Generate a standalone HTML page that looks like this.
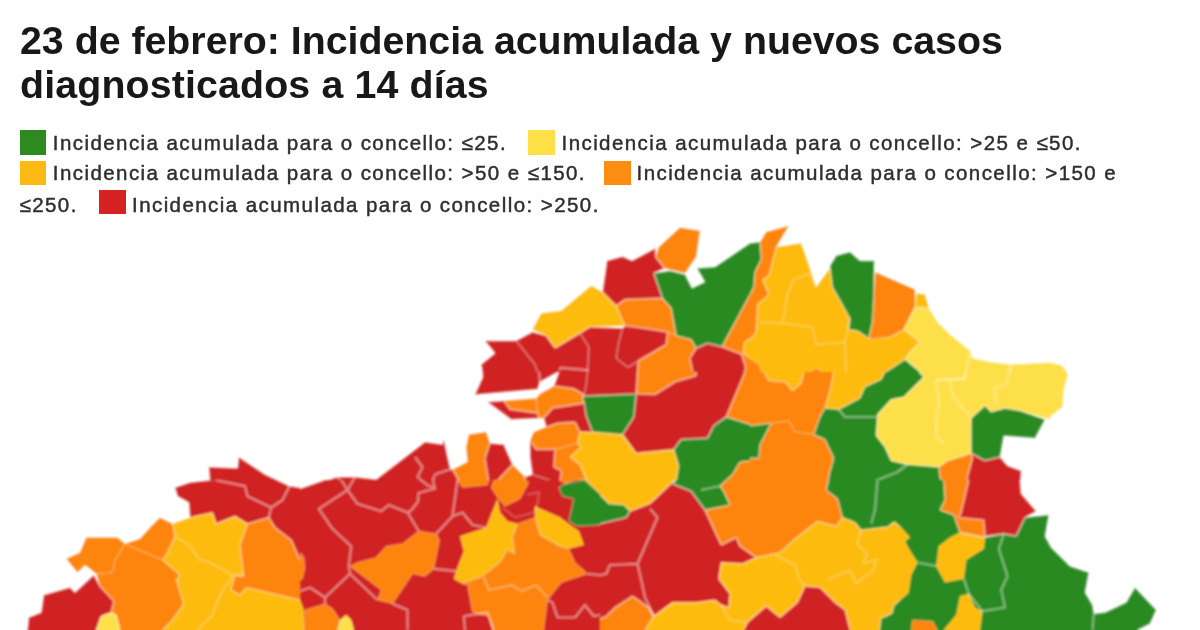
<!DOCTYPE html>
<html lang="es"><head><meta charset="utf-8"><title>Incidencia acumulada</title>
<style>
html,body{margin:0;padding:0;background:#fff;}
body{width:1200px;height:630px;overflow:hidden;position:relative;font-family:"Liberation Sans",sans-serif;}
#title{position:absolute;filter:blur(0.4px);left:20px;top:17.5px;margin:0;font-weight:bold;font-size:39.3px;line-height:44.6px;color:#181818;white-space:nowrap;}
#title span{display:block;}
.lg{position:absolute;-webkit-text-stroke:0.45px #2e2e2e;filter:blur(0.35px);font-size:20.5px;letter-spacing:1.43px;color:#2e2e2e;white-space:nowrap;line-height:28px;}
.sw{position:absolute;filter:blur(0.5px);width:26.7px;height:24.4px;}
#map{position:absolute;left:0;top:0;}
#map .b{fill:none;stroke:#fff;stroke-width:2.2;stroke-linejoin:round;}
#map .bR{stroke-opacity:.45}#map .bO{stroke-opacity:.3}#map .bA{stroke-opacity:.22}#map .bY{stroke-opacity:.28}#map .bG{stroke-opacity:.4}
#map .eR{stroke-opacity:.26}#map .eO{stroke-opacity:.17}#map .eA{stroke-opacity:.12}#map .eY{stroke-opacity:.15}#map .eG{stroke-opacity:.22}
</style></head><body>
<h1 id="title"><span id="t1">23 de febrero: Incidencia acumulada y nuevos casos</span><span id="t2" style="letter-spacing:0.15px">diagnosticados a 14 días</span></h1>
<div class="sw" style="left:19.5px;top:130.3px;background:#2c8a1e"></div><div class="lg" id="l1" style="left:52.8px;top:128.6px">Incidencia acumulada para o concello: ≤25.</div>
<div class="sw" style="left:528.4px;top:130.3px;background:#fde047"></div><div class="lg" id="l2" style="left:561.5px;top:128.6px">Incidencia acumulada para o concello: &gt;25 e ≤50.</div>
<div class="sw" style="left:19.5px;top:161px;background:#fdb913"></div><div class="lg" id="l3" style="left:52.8px;top:159px">Incidencia acumulada para o concello: &gt;50 e ≤150.</div>
<div class="sw" style="left:604px;top:161px;background:#fd8c12"></div><div class="lg" id="l4" style="left:636.5px;top:159px">Incidencia acumulada para o concello: &gt;150 e</div>
<div class="lg" id="l5" style="left:19.5px;top:190.6px">≤250.</div>
<div class="sw" style="left:99px;top:190px;background:#d62222"></div><div class="lg" id="l6" style="left:132px;top:190.6px">Incidencia acumulada para o concello: &gt;250.</div>
<svg id="map" width="1200" height="630" viewBox="0 0 1200 630">
<!--MAP--><defs><clipPath id="c0"><rect x="450" y="222" width="300" height="150"/></clipPath><clipPath id="c1"><rect x="750" y="222" width="300" height="150"/></clipPath><clipPath id="c2"><rect x="1050" y="322" width="150" height="158"/></clipPath><clipPath id="c3"><rect x="450" y="372" width="300" height="108"/></clipPath><clipPath id="c4"><rect x="750" y="372" width="300" height="108"/></clipPath><clipPath id="c5"><rect x="150" y="372" width="300" height="108"/></clipPath><clipPath id="c6"><rect x="0" y="480" width="300" height="165"/></clipPath><clipPath id="c7"><rect x="300" y="480" width="300" height="165"/></clipPath><clipPath id="c8"><rect x="600" y="480" width="300" height="165"/></clipPath><clipPath id="c9"><rect x="900" y="480" width="300" height="165"/></clipPath><filter id="bl" filterUnits="userSpaceOnUse" x="0" y="200" width="1200" height="460"><feGaussianBlur stdDeviation="0.8"/></filter></defs>
<g filter="url(#bl)">
<g clip-path="url(#c0)">
<polygon fill="#fd840a" points="680,227.5 700,230.8 696.2,257 685,273.2 664.5,268.2 655.5,257 658.8,247"/>
<polygon fill="#d02020" points="607,260.8 622.5,256.5 632,260.8 655.5,248.2 655.5,257 664.5,268.2 653.8,273.2 662.5,298.2 625,299.5 616.2,305.8 602.5,292"/>
<polygon fill="#2b8a20" points="653.8,273.2 670,270.8 685,274.5 692,288.2 705,282 697,268.2 715,267 750,243.2 750,294.5 722,346.8 707.5,343.2 696.2,348.2 691.2,339.5 676.2,335.8 671.2,308.2 662.5,298.2"/>
<polygon fill="#fdbb10" points="591.2,285.8 602.5,292 616.2,305.8 625,325.8 590,327 555,348.2 546.2,335.8 532.5,329.5 541.2,313.2 561.2,310.8"/>
<polygon fill="#fd840a" points="625,299.5 662.5,298.2 671.2,308.2 676.2,335.8 667.5,332 635,327 625,325.8 616.2,305.8"/>
<polygon fill="#d02020" points="485,340.8 516.2,340.8 525,352 535,364.5 537.5,372 482.5,372 481.2,364.5 495,353.2"/>
<polygon fill="#d02020" points="516.2,340.8 532.5,332 546.2,335.8 555,348.2 580,333.2 588.8,347 587.5,372 537.5,372 535,364.5 525,352"/>
<polygon fill="#d02020" points="580,333.2 590,327 622.5,328.2 618.8,342 616.2,358.2 628,367.5 638,361 637.5,377 587.5,377 588.8,347"/>
<polygon fill="#d02020" points="622.5,328.2 625,325.8 635,327 667.5,332 666.2,344.5 638,361 628,367.5 616.2,358.2 618.8,342"/>
<polygon fill="#fd840a" points="667.5,332 676.2,335.8 691.2,339.5 696.2,348.2 690,358.2 693.8,377 637.5,377 638,361 666.2,344.5"/>
<polygon fill="#d02020" points="696.2,348.2 707.5,343.2 722,346.8 741.5,354.2 745.8,368 742.5,377 693.8,377 690,358.2"/>
<polygon fill="#fd840a" points="750,294.5 750,338.8 744.2,342.5 743.2,353 741.5,354.2 722,346.8"/>
<polygon fill="#fdbb10" points="750,338.8 744.2,342.5 743.2,353 750,358.5"/>
<polygon fill="#fd840a" points="743.2,353 750,358.5 750,377 742.5,377 745.8,368 741.5,354.2"/>
<path class="b eR" d="M607 260.8L622.5 256.5M622.5 256.5L632 260.8M632 260.8L655.5 248.2M655.5 248.2L655.5 257M655.5 257L664.5 268.2M664.5 268.2L653.8 273.2M653.8 273.2L662.5 298.2M662.5 298.2L625 299.5M625 299.5L616.2 305.8M616.2 305.8L602.5 292M602.5 292L607 260.8M485 340.8L516.2 340.8M516.2 340.8L525 352M525 352L535 364.5M535 364.5L537.5 372M482.5 372L481.2 364.5M481.2 364.5L495 353.2M495 353.2L485 340.8M516.2 340.8L532.5 332M532.5 332L546.2 335.8M546.2 335.8L555 348.2M555 348.2L580 333.2M580 333.2L588.8 347M588.8 347L587.5 372M537.5 372L535 364.5M535 364.5L525 352M525 352L516.2 340.8M580 333.2L590 327M590 327L622.5 328.2M622.5 328.2L618.8 342M618.8 342L616.2 358.2M616.2 358.2L628 367.5M628 367.5L638 361M638 361L637.5 377M587.5 377L588.8 347M588.8 347L580 333.2M622.5 328.2L625 325.8M625 325.8L635 327M635 327L667.5 332M667.5 332L666.2 344.5M666.2 344.5L638 361M638 361L628 367.5M628 367.5L616.2 358.2M616.2 358.2L618.8 342M618.8 342L622.5 328.2M696.2 348.2L707.5 343.2M707.5 343.2L722 346.8M722 346.8L741.5 354.2M741.5 354.2L745.8 368M745.8 368L742.5 377M693.8 377L690 358.2M690 358.2L696.2 348.2"/>
<path class="b eO" d="M680 227.5L700 230.8M700 230.8L696.2 257M696.2 257L685 273.2M685 273.2L664.5 268.2M664.5 268.2L655.5 257M655.5 257L658.8 247M658.8 247L680 227.5M625 299.5L662.5 298.2M662.5 298.2L671.2 308.2M671.2 308.2L676.2 335.8M676.2 335.8L667.5 332M667.5 332L635 327M635 327L625 325.8M625 325.8L616.2 305.8M616.2 305.8L625 299.5M667.5 332L676.2 335.8M676.2 335.8L691.2 339.5M691.2 339.5L696.2 348.2M696.2 348.2L690 358.2M690 358.2L693.8 377M637.5 377L638 361M638 361L666.2 344.5M666.2 344.5L667.5 332M750 338.8L744.2 342.5M744.2 342.5L743.2 353M743.2 353L741.5 354.2M741.5 354.2L722 346.8M722 346.8L750 294.5M743.2 353L750 358.5M742.5 377L745.8 368M745.8 368L741.5 354.2M741.5 354.2L743.2 353"/>
<path class="b eA" d="M591.2 285.8L602.5 292M602.5 292L616.2 305.8M616.2 305.8L625 325.8M625 325.8L590 327M590 327L555 348.2M555 348.2L546.2 335.8M546.2 335.8L532.5 329.5M532.5 329.5L541.2 313.2M541.2 313.2L561.2 310.8M561.2 310.8L591.2 285.8M750 338.8L744.2 342.5M744.2 342.5L743.2 353M743.2 353L750 358.5"/>
<path class="b eG" d="M653.8 273.2L670 270.8M670 270.8L685 274.5M685 274.5L692 288.2M692 288.2L705 282M705 282L697 268.2M697 268.2L715 267M715 267L750 243.2M750 294.5L722 346.8M722 346.8L707.5 343.2M707.5 343.2L696.2 348.2M696.2 348.2L691.2 339.5M691.2 339.5L676.2 335.8M676.2 335.8L671.2 308.2M671.2 308.2L662.5 298.2M662.5 298.2L653.8 273.2"/>
<path class="b bR" d="M559 370.2L560.5 367.8L587.5 370.2"/>
</g>
<g clip-path="url(#c1)">
<polygon fill="#2b8a20" points="750,243.2 760,242 761.2,259.5 755,272 753.8,287 750,294.5"/>
<polygon fill="#fd840a" points="766.2,232 788.8,225.8 776.2,247 768.8,275.8 762.5,279.5 768.8,294.5 757.5,304.5 756.2,332 750,339.5 750,294.5 753.8,287 755,272 761.2,259.5 760,242"/>
<polygon fill="#fdbb10" points="776.2,247 801.2,243.2 816.2,287 830,268.2 832.5,287 850,318.2 848.8,329.5 857.5,330.8 868.8,338.2 890,337 903.8,329.5 920,342 910,352 905,359.5 886.2,372 750,372 750,339.5 756.2,332 757.5,304.5 768.8,294.5 762.5,279.5 768.8,275.8"/>
<polygon fill="#2b8a20" points="830,265.8 836.2,255.8 850,252 860,260.8 874.2,260.8 873.8,297 872.5,322 868.8,338.2 857.5,330.8 848.8,329.5 850,318.2 832.5,287"/>
<polygon fill="#fd840a" points="875,272 915,289.5 915,307 903.8,329.5 890,337 872.5,339.5 868.8,338.2 872.5,322 873.8,297"/>
<polygon fill="#fdbb10" points="916.2,293.2 925,294.5 928.8,308.2 915,307"/>
<polygon fill="#fde04a" points="915,307 928.8,308.2 937.5,322 950,334.5 970,350.8 972.5,358.2 990,362 1011.2,364.5 1050,362.5 1050,372 920,372 905,359.5 910,352 920,342 903.8,329.5"/>
<polygon fill="#2b8a20" points="886.2,372 905,359.5 920,372"/>
<polygon fill="#fd840a" points="750,358.5 759.5,365.2 762.5,377 750,377"/>
<polygon fill="#fd840a" points="810,372 816.2,368.2 822.5,372"/>
<path class="b eO" d="M766.2 232L788.8 225.8M788.8 225.8L776.2 247M776.2 247L768.8 275.8M768.8 275.8L762.5 279.5M762.5 279.5L768.8 294.5M768.8 294.5L757.5 304.5M757.5 304.5L756.2 332M756.2 332L750 339.5M750 294.5L753.8 287M753.8 287L755 272M755 272L761.2 259.5M761.2 259.5L760 242M760 242L766.2 232M875 272L915 289.5M915 289.5L915 307M915 307L903.8 329.5M903.8 329.5L890 337M890 337L872.5 339.5M872.5 339.5L868.8 338.2M868.8 338.2L872.5 322M872.5 322L873.8 297M873.8 297L875 272M750 358.5L759.5 365.2M759.5 365.2L762.5 377M810 372L816.2 368.2M816.2 368.2L822.5 372"/>
<path class="b eA" d="M776.2 247L801.2 243.2M801.2 243.2L816.2 287M816.2 287L830 268.2M830 268.2L832.5 287M832.5 287L850 318.2M850 318.2L848.8 329.5M848.8 329.5L857.5 330.8M857.5 330.8L868.8 338.2M868.8 338.2L890 337M890 337L903.8 329.5M903.8 329.5L920 342M920 342L910 352M910 352L905 359.5M905 359.5L886.2 372M750 339.5L756.2 332M756.2 332L757.5 304.5M757.5 304.5L768.8 294.5M768.8 294.5L762.5 279.5M762.5 279.5L768.8 275.8M768.8 275.8L776.2 247M916.2 293.2L925 294.5M925 294.5L928.8 308.2M928.8 308.2L915 307M915 307L916.2 293.2"/>
<path class="b eY" d="M915 307L928.8 308.2M928.8 308.2L937.5 322M937.5 322L950 334.5M950 334.5L970 350.8M970 350.8L972.5 358.2M972.5 358.2L990 362M990 362L1011.2 364.5M1011.2 364.5L1050 362.5M920 372L905 359.5M905 359.5L910 352M910 352L920 342M920 342L903.8 329.5M903.8 329.5L915 307"/>
<path class="b eG" d="M750 243.2L760 242M760 242L761.2 259.5M761.2 259.5L755 272M755 272L753.8 287M753.8 287L750 294.5M830 265.8L836.2 255.8M836.2 255.8L850 252M850 252L860 260.8M860 260.8L874.2 260.8M874.2 260.8L873.8 297M873.8 297L872.5 322M872.5 322L868.8 338.2M868.8 338.2L857.5 330.8M857.5 330.8L848.8 329.5M848.8 329.5L850 318.2M850 318.2L832.5 287M832.5 287L830 265.8M886.2 372L905 359.5M905 359.5L920 372"/>
<path class="b bR" d="M1010.8 365.8L1006 384.8"/>
<path class="b bA" d="M787.5 294.5L793.8 279.5L810 273.2L816.2 287M760 322L782.5 323.2L812.5 327L816.2 344.5L845 342L850 318.2M845 342L846.2 372M787.5 294.5L782.5 323.2"/>
<path class="b bY" d="M970.2 353.8L964.2 378.8"/>
</g>
<g clip-path="url(#c2)">
<polygon fill="#fde04a" points="903.8,329.5 906.2,322 937.5,322 951.2,339.5 970,350.8 973.8,358.2 1010,364.5 1020,362 1040,361.5 1050,362.5 1062.5,365.8 1068,374.5 1063.8,389.5 1062.5,407 1045,420.8 1006.2,408.2 991.2,412 985,405.8 971.2,418.2 971.2,457 962.5,455.8 940,465.8 937.5,469.5 907.5,463.2 900,465.8 900,398.2 923.8,375.8 905,359.5 910,352 920,342"/>
<polygon fill="#2b8a20" points="985,405.8 991.2,412 1006.2,408.2 1045,420.8 1035,438.2 1003.8,435.8 1000,457 985,460.8 971.2,457 971.2,418.2"/>
<polygon fill="#d02020" points="971.2,457 985,460.8 1000,457 1007.5,465.8 1020,472 1020,482 972.5,482 971.2,464.5"/>
<polygon fill="#fd840a" points="940,465.8 962.5,455.8 971.2,457 971.2,464.5 972.5,472 937.5,472"/>
<path class="b eR" d="M971.2 457L985 460.8M985 460.8L1000 457M1000 457L1007.5 465.8M1007.5 465.8L1020 472M972.5 482L971.2 464.5M971.2 464.5L971.2 457"/>
<path class="b eO" d="M940 465.8L962.5 455.8M962.5 455.8L971.2 457M971.2 457L971.2 464.5M971.2 464.5L972.5 472M937.5 472L940 465.8"/>
<path class="b eY" d="M903.8 329.5L906.2 322M937.5 322L951.2 339.5M951.2 339.5L970 350.8M970 350.8L973.8 358.2M973.8 358.2L1010 364.5M1010 364.5L1020 362M1020 362L1040 361.5M1040 361.5L1050 362.5M1050 362.5L1062.5 365.8M1062.5 365.8L1068 374.5M1068 374.5L1063.8 389.5M1063.8 389.5L1062.5 407M1062.5 407L1045 420.8M1045 420.8L1006.2 408.2M1006.2 408.2L991.2 412M991.2 412L985 405.8M985 405.8L971.2 418.2M971.2 418.2L971.2 457M971.2 457L962.5 455.8M962.5 455.8L940 465.8M940 465.8L937.5 469.5M937.5 469.5L907.5 463.2M907.5 463.2L900 465.8M900 398.2L923.8 375.8M923.8 375.8L905 359.5M905 359.5L910 352M910 352L920 342M920 342L903.8 329.5"/>
<path class="b eG" d="M985 405.8L991.2 412M991.2 412L1006.2 408.2M1006.2 408.2L1045 420.8M1045 420.8L1035 438.2M1035 438.2L1003.8 435.8M1003.8 435.8L1000 457M1000 457L985 460.8M985 460.8L971.2 457M971.2 457L971.2 418.2M971.2 418.2L985 405.8"/>
<path class="b bY" d="M1010 364.5L1006.2 384.5L993.8 389.5L996.2 407"/>
</g>
<g clip-path="url(#c3)">
<polygon fill="#d02020" points="482.5,372 557.8,372 539.8,382 537.5,389.2 474.8,394.8 482.8,377.2"/>
<polygon fill="#d02020" points="559,372 587.5,372 586.2,384.5 584.2,394.8 573.2,388.5 554,386"/>
<polygon fill="#d02020" points="587.5,372 637.5,372 636.2,394 582.5,396.2 584.2,394.8 586.2,384.5"/>
<polygon fill="#fd840a" points="637.5,372 696.2,372 696.2,375.8 675,382 655,394.5 636.2,394"/>
<polygon fill="#d02020" points="696.2,372 745,372 726.2,417 713.8,425.8 707.5,438.2 681.2,439.5 673.8,449.5 636.2,453.2 622.5,434.5 633.8,417 636.2,394 655,394.5 675,382 696.2,375.8"/>
<polygon fill="#fd840a" points="745,372 750,372 750,424.5 726.2,417"/>
<polygon fill="#2b8a20" points="582.5,396.2 636.2,394 633.8,417 622.5,434.5 592.5,432 586.2,415.8"/>
<polygon fill="#fd840a" points="503.8,400.8 536.2,398.2 537.5,413.2 510,409.5"/>
<polygon fill="#d02020" points="487.5,402 503.8,400.8 510,409.5 537.5,413.2 538.8,418.2 511.2,419.5"/>
<polygon fill="#fd840a" points="539.8,394 554,386 573.2,388.5 584.2,394.8 582.5,396.2 584.5,403.2 552.5,408.2 543.8,418.2 538.8,418.2 537.5,413.2 536.2,398.2"/>
<polygon fill="#d02020" points="552.5,408.2 584.5,403.2 586.2,415.8 592.5,432 580,432 575,422 557.5,423.2 546.2,427 543.8,418.2"/>
<polygon fill="#fd840a" points="533.8,432 546.2,427 557.5,423.2 575,422 580,432 577.5,443.2 555,449.5 536.2,449.5 530,440.8"/>
<polygon fill="#fd840a" points="555,449.5 577.5,443.2 581.2,447 570,457 580,464.5 586.2,479.5 560,482 561.2,470.8 553.8,467"/>
<polygon fill="#fdbb10" points="580,432 592.5,432 622.5,434.5 636.2,453.2 673.8,449.5 678.8,465.8 676.2,482 662.5,492 647.5,507 630,512 612.5,503.2 600,494.5 586.2,479.5 580,464.5 570,457 581.2,447 577.5,443.2"/>
<polygon fill="#2b8a20" points="673.8,449.5 681.2,439.5 707.5,438.2 713.8,425.8 726.2,417 750,424.5 750,460.8 740,462 732.5,474.5 720,486 724,492 730,502 710,509.5 700,508.2 693.8,494.5 683.8,489.5 676.2,482 678.8,465.8"/>
<polygon fill="#fd840a" points="750,460.8 750,522 705,522 710,509.5 730,502 724,492 720,486 732.5,474.5 740,462"/>
<polygon fill="#d02020" points="676.2,482 683.8,489.5 693.8,494.5 700,508.2 710,509.5 705,522 628.8,522 630,512 647.5,507 662.5,492"/>
<polygon fill="#2b8a20" points="560,482 586.2,479.5 600,494.5 612.5,503.2 627.5,508.2 628.8,522 572.5,522 572.5,500.8 565,495.8"/>
<polygon fill="#fd840a" points="468.8,434.5 486.2,432 490,443.2 485,458.2 488.8,482 462.5,487 452.5,469.5 467.5,462 466.2,447"/>
<polygon fill="#d02020" points="490,443.2 503.8,444.5 512.5,464.5 495,483.2 488.8,482 485,458.2"/>
<polygon fill="#fd840a" points="512.5,464.5 525,477 527.5,489.5 511.2,505.8 503.8,507 492.5,487 495,483.2"/>
<polygon fill="#d02020" points="530,440.8 536.2,449.5 555,449.5 553.8,467 561.2,470.8 560,482 555,482 532.5,474.5 530,457"/>
<polygon fill="#d02020" points="532.5,474.5 555,482 560,482 565,495.8 572.5,500.8 572.5,519.5 537.5,507 538.8,493.2 527.5,489.5 525,477"/>
<polygon fill="#d02020" points="450,469.5 452.5,469.5 462.5,487 488.8,482 492.5,487 491.2,502 487.5,522 450,522"/>
<polygon fill="#fdbb10" points="491.2,497 503.8,507 506.2,522 487.5,522"/>
<polygon fill="#d02020" points="503.8,507 511.2,505.8 527.5,489.5 538.8,493.2 537.5,507 530,519.5 511.2,520.8"/>
<polygon fill="#fdbb10" points="537.5,507 572.5,519.5 572.5,522 535,522 530,519.5"/>
<path class="b eR" d="M557.8 372L539.8 382M539.8 382L537.5 389.2M537.5 389.2L474.8 394.8M474.8 394.8L482.8 377.2M482.8 377.2L482.5 372M587.5 372L586.2 384.5M586.2 384.5L584.2 394.8M584.2 394.8L573.2 388.5M573.2 388.5L554 386M554 386L559 372M637.5 372L636.2 394M636.2 394L582.5 396.2M582.5 396.2L584.2 394.8M584.2 394.8L586.2 384.5M586.2 384.5L587.5 372M745 372L726.2 417M726.2 417L713.8 425.8M713.8 425.8L707.5 438.2M707.5 438.2L681.2 439.5M681.2 439.5L673.8 449.5M673.8 449.5L636.2 453.2M636.2 453.2L622.5 434.5M622.5 434.5L633.8 417M633.8 417L636.2 394M636.2 394L655 394.5M655 394.5L675 382M675 382L696.2 375.8M696.2 375.8L696.2 372M487.5 402L503.8 400.8M503.8 400.8L510 409.5M510 409.5L537.5 413.2M537.5 413.2L538.8 418.2M538.8 418.2L511.2 419.5M511.2 419.5L487.5 402M552.5 408.2L584.5 403.2M584.5 403.2L586.2 415.8M586.2 415.8L592.5 432M592.5 432L580 432M580 432L575 422M575 422L557.5 423.2M557.5 423.2L546.2 427M546.2 427L543.8 418.2M543.8 418.2L552.5 408.2M676.2 482L683.8 489.5M683.8 489.5L693.8 494.5M693.8 494.5L700 508.2M700 508.2L710 509.5M710 509.5L705 522M628.8 522L630 512M630 512L647.5 507M647.5 507L662.5 492M662.5 492L676.2 482M490 443.2L503.8 444.5M503.8 444.5L512.5 464.5M512.5 464.5L495 483.2M495 483.2L488.8 482M488.8 482L485 458.2M485 458.2L490 443.2M530 440.8L536.2 449.5M536.2 449.5L555 449.5M555 449.5L553.8 467M553.8 467L561.2 470.8M561.2 470.8L560 482M560 482L555 482M555 482L532.5 474.5M532.5 474.5L530 457M530 457L530 440.8M532.5 474.5L555 482M555 482L560 482M560 482L565 495.8M565 495.8L572.5 500.8M572.5 500.8L572.5 519.5M572.5 519.5L537.5 507M537.5 507L538.8 493.2M538.8 493.2L527.5 489.5M527.5 489.5L525 477M525 477L532.5 474.5M450 469.5L452.5 469.5M452.5 469.5L462.5 487M462.5 487L488.8 482M488.8 482L492.5 487M492.5 487L491.2 502M491.2 502L487.5 522M503.8 507L511.2 505.8M511.2 505.8L527.5 489.5M527.5 489.5L538.8 493.2M538.8 493.2L537.5 507M537.5 507L530 519.5M530 519.5L511.2 520.8M511.2 520.8L503.8 507"/>
<path class="b eO" d="M696.2 372L696.2 375.8M696.2 375.8L675 382M675 382L655 394.5M655 394.5L636.2 394M636.2 394L637.5 372M750 424.5L726.2 417M726.2 417L745 372M503.8 400.8L536.2 398.2M536.2 398.2L537.5 413.2M537.5 413.2L510 409.5M510 409.5L503.8 400.8M539.8 394L554 386M554 386L573.2 388.5M573.2 388.5L584.2 394.8M584.2 394.8L582.5 396.2M582.5 396.2L584.5 403.2M584.5 403.2L552.5 408.2M552.5 408.2L543.8 418.2M543.8 418.2L538.8 418.2M538.8 418.2L537.5 413.2M537.5 413.2L536.2 398.2M536.2 398.2L539.8 394M533.8 432L546.2 427M546.2 427L557.5 423.2M557.5 423.2L575 422M575 422L580 432M580 432L577.5 443.2M577.5 443.2L555 449.5M555 449.5L536.2 449.5M536.2 449.5L530 440.8M530 440.8L533.8 432M555 449.5L577.5 443.2M577.5 443.2L581.2 447M581.2 447L570 457M570 457L580 464.5M580 464.5L586.2 479.5M586.2 479.5L560 482M560 482L561.2 470.8M561.2 470.8L553.8 467M553.8 467L555 449.5M705 522L710 509.5M710 509.5L730 502M730 502L724 492M724 492L720 486M720 486L732.5 474.5M732.5 474.5L740 462M740 462L750 460.8M468.8 434.5L486.2 432M486.2 432L490 443.2M490 443.2L485 458.2M485 458.2L488.8 482M488.8 482L462.5 487M462.5 487L452.5 469.5M452.5 469.5L467.5 462M467.5 462L466.2 447M466.2 447L468.8 434.5M512.5 464.5L525 477M525 477L527.5 489.5M527.5 489.5L511.2 505.8M511.2 505.8L503.8 507M503.8 507L492.5 487M492.5 487L495 483.2M495 483.2L512.5 464.5"/>
<path class="b eA" d="M580 432L592.5 432M592.5 432L622.5 434.5M622.5 434.5L636.2 453.2M636.2 453.2L673.8 449.5M673.8 449.5L678.8 465.8M678.8 465.8L676.2 482M676.2 482L662.5 492M662.5 492L647.5 507M647.5 507L630 512M630 512L612.5 503.2M612.5 503.2L600 494.5M600 494.5L586.2 479.5M586.2 479.5L580 464.5M580 464.5L570 457M570 457L581.2 447M581.2 447L577.5 443.2M577.5 443.2L580 432M491.2 497L503.8 507M503.8 507L506.2 522M487.5 522L491.2 497M537.5 507L572.5 519.5M572.5 519.5L572.5 522M535 522L530 519.5M530 519.5L537.5 507"/>
<path class="b eG" d="M582.5 396.2L636.2 394M636.2 394L633.8 417M633.8 417L622.5 434.5M622.5 434.5L592.5 432M592.5 432L586.2 415.8M586.2 415.8L582.5 396.2M673.8 449.5L681.2 439.5M681.2 439.5L707.5 438.2M707.5 438.2L713.8 425.8M713.8 425.8L726.2 417M726.2 417L750 424.5M750 460.8L740 462M740 462L732.5 474.5M732.5 474.5L720 486M720 486L724 492M724 492L730 502M730 502L710 509.5M710 509.5L700 508.2M700 508.2L693.8 494.5M693.8 494.5L683.8 489.5M683.8 489.5L676.2 482M676.2 482L678.8 465.8M678.8 465.8L673.8 449.5M560 482L586.2 479.5M586.2 479.5L600 494.5M600 494.5L612.5 503.2M612.5 503.2L627.5 508.2M627.5 508.2L628.8 522M572.5 522L572.5 500.8M572.5 500.8L565 495.8M565 495.8L560 482"/>
<path class="b bR" d="M539.2 372L539.8 382"/>
<path class="b bG" d="M701 490L720 486"/>
</g>
<g clip-path="url(#c4)">
<polygon fill="#fdbb10" points="763.8,372 803.8,372 801.2,383.2 792.5,390.8 785,382 768.8,380.8"/>
<polygon fill="#fdbb10" points="833.8,372 885,372 881.2,379.5 865,387 860,398.2 838.8,409.5 825,408.2 830,389.5"/>
<polygon fill="#fd840a" points="750,372 763.8,372 768.8,380.8 785,382 792.5,390.8 801.2,383.2 803.8,372 833.8,372 830,389.5 825,408.2 820,417 813.8,434.5 795,432 788.8,420.8 771.2,423.2 750,425.8"/>
<polygon fill="#fd840a" points="771.2,423.2 788.8,420.8 795,432 813.8,434.5 825,439.5 833.8,458.2 830,472 826.2,489.5 837.5,499.5 843.8,514.5 845,522 750,522 750,458.2 758.8,458.2 760,444.5"/>
<polygon fill="#2b8a20" points="750,425.8 771.2,423.2 760,444.5 758.8,458.2 750,458.2"/>
<polygon fill="#2b8a20" points="881.2,379.5 885,372 919,372 923.8,377 903.8,397 891.2,399.5 877.5,414.5 876.2,435.8 885,447 891.2,460.8 907.5,464.5 938.8,467 940,477 945,492 942.5,507 950,522 845,522 843.8,514.5 837.5,499.5 826.2,489.5 830,472 833.8,458.2 825,439.5 813.8,434.5 820,417 825,408.2 838.8,409.5 860,398.2 865,387"/>
<polygon fill="#fde04a" points="919,372 1050,372 1050,419.5 1020,410.8 1005,408.2 991.2,412 985,405.8 971.2,418.2 971.2,453.2 960,457 947.5,460.8 938.8,467 907.5,464.5 891.2,460.8 885,447 876.2,435.8 877.5,414.5 891.2,399.5 903.8,397 923.8,377"/>
<polygon fill="#2b8a20" points="985,405.8 991.2,412 1005,408.2 1020,410.8 1045,419.5 1035,438.2 1003.8,435.8 1000,457 985,460.8 971.2,453.2 971.2,418.2"/>
<polygon fill="#fd840a" points="938.8,467 947.5,460.8 960,457 971.2,453.2 972.5,458.2 967.5,477 965,497 962.5,514.5 967.5,517 975,522 950,522 942.5,507 945,492 940,477"/>
<polygon fill="#d02020" points="971.2,453.2 985,460.8 1000,457 1007.5,465.8 1021.2,470.8 1020,492 1027.5,502 1036.2,512 1025,517 1022.5,522 975,522 967.5,517 962.5,514.5 965,497 967.5,477 972.5,458.2"/>
<path class="b eR" d="M971.2 453.2L985 460.8M985 460.8L1000 457M1000 457L1007.5 465.8M1007.5 465.8L1021.2 470.8M1021.2 470.8L1020 492M1020 492L1027.5 502M1027.5 502L1036.2 512M1036.2 512L1025 517M1025 517L1022.5 522M975 522L967.5 517M967.5 517L962.5 514.5M962.5 514.5L965 497M965 497L967.5 477M967.5 477L972.5 458.2M972.5 458.2L971.2 453.2"/>
<path class="b eO" d="M763.8 372L768.8 380.8M768.8 380.8L785 382M785 382L792.5 390.8M792.5 390.8L801.2 383.2M801.2 383.2L803.8 372M833.8 372L830 389.5M830 389.5L825 408.2M825 408.2L820 417M820 417L813.8 434.5M813.8 434.5L795 432M795 432L788.8 420.8M788.8 420.8L771.2 423.2M771.2 423.2L750 425.8M771.2 423.2L788.8 420.8M788.8 420.8L795 432M795 432L813.8 434.5M813.8 434.5L825 439.5M825 439.5L833.8 458.2M833.8 458.2L830 472M830 472L826.2 489.5M826.2 489.5L837.5 499.5M837.5 499.5L843.8 514.5M843.8 514.5L845 522M750 458.2L758.8 458.2M758.8 458.2L760 444.5M760 444.5L771.2 423.2M938.8 467L947.5 460.8M947.5 460.8L960 457M960 457L971.2 453.2M971.2 453.2L972.5 458.2M972.5 458.2L967.5 477M967.5 477L965 497M965 497L962.5 514.5M962.5 514.5L967.5 517M967.5 517L975 522M950 522L942.5 507M942.5 507L945 492M945 492L940 477M940 477L938.8 467"/>
<path class="b eA" d="M803.8 372L801.2 383.2M801.2 383.2L792.5 390.8M792.5 390.8L785 382M785 382L768.8 380.8M768.8 380.8L763.8 372M885 372L881.2 379.5M881.2 379.5L865 387M865 387L860 398.2M860 398.2L838.8 409.5M838.8 409.5L825 408.2M825 408.2L830 389.5M830 389.5L833.8 372"/>
<path class="b eY" d="M1050 419.5L1020 410.8M1020 410.8L1005 408.2M1005 408.2L991.2 412M991.2 412L985 405.8M985 405.8L971.2 418.2M971.2 418.2L971.2 453.2M971.2 453.2L960 457M960 457L947.5 460.8M947.5 460.8L938.8 467M938.8 467L907.5 464.5M907.5 464.5L891.2 460.8M891.2 460.8L885 447M885 447L876.2 435.8M876.2 435.8L877.5 414.5M877.5 414.5L891.2 399.5M891.2 399.5L903.8 397M903.8 397L923.8 377M923.8 377L919 372"/>
<path class="b eG" d="M750 425.8L771.2 423.2M771.2 423.2L760 444.5M760 444.5L758.8 458.2M758.8 458.2L750 458.2M881.2 379.5L885 372M919 372L923.8 377M923.8 377L903.8 397M903.8 397L891.2 399.5M891.2 399.5L877.5 414.5M877.5 414.5L876.2 435.8M876.2 435.8L885 447M885 447L891.2 460.8M891.2 460.8L907.5 464.5M907.5 464.5L938.8 467M938.8 467L940 477M940 477L945 492M945 492L942.5 507M942.5 507L950 522M845 522L843.8 514.5M843.8 514.5L837.5 499.5M837.5 499.5L826.2 489.5M826.2 489.5L830 472M830 472L833.8 458.2M833.8 458.2L825 439.5M825 439.5L813.8 434.5M813.8 434.5L820 417M820 417L825 408.2M825 408.2L838.8 409.5M838.8 409.5L860 398.2M860 398.2L865 387M865 387L881.2 379.5M985 405.8L991.2 412M991.2 412L1005 408.2M1005 408.2L1020 410.8M1020 410.8L1045 419.5M1045 419.5L1035 438.2M1035 438.2L1003.8 435.8M1003.8 435.8L1000 457M1000 457L985 460.8M985 460.8L971.2 453.2M971.2 453.2L971.2 418.2M971.2 418.2L985 405.8"/>
<path class="b bR" d="M970.2 353.8L964.2 378.8L935.8 380"/>
<path class="b bY" d="M950 381.2L953.5 396.8L971.5 418M935.8 380L939.2 401.5L935.8 423L937 437L944 444M1010.8 365.8L1006 384.8L994 388.2L996.5 405"/>
<path class="b bG" d="M838.8 409.5L845 417L876.2 417M907.5 464.5L897.5 472L872.5 482L877.5 492L876.2 522"/>
</g>
<g clip-path="url(#c5)">
<polygon fill="#d02020" points="175,485.8 210,482 208.8,467 237.5,468.2 238.8,457 265,474.5 288.8,485.8 303.8,488.2 337.5,477 355,477 376.2,479.5 425,442 442.5,444.5 443.8,439.5 450,468.2 450,522 193.8,522 190,517 190,499.5 177.5,497"/>
<path class="b eR" d="M175 485.8L210 482M210 482L208.8 467M208.8 467L237.5 468.2M237.5 468.2L238.8 457M238.8 457L265 474.5M265 474.5L288.8 485.8M288.8 485.8L303.8 488.2M303.8 488.2L337.5 477M337.5 477L355 477M355 477L376.2 479.5M376.2 479.5L425 442M425 442L442.5 444.5M442.5 444.5L443.8 439.5M443.8 439.5L450 468.2M193.8 522L190 517M190 517L190 499.5M190 499.5L177.5 497M177.5 497L175 485.8"/>
<path class="b bR" d="M210 482L215 480.8L243.8 485.8L246.2 497L272.5 508.2L285 502L288.8 485.8M272.5 508.2L270 522M337.5 477L347.5 489.5L337.5 502L320 508.2L330 522M355 477L347.5 489.5L352.5 500.8L382.5 512L390 505.8L405 514.5L412.5 522M415 457L422.5 467L417.5 477L427 485L435 488.5L433 478.5L435.8 474L450 469.5M431.2 488.2L418.8 494.5L421.2 504.5L405 514.5"/>
</g>
<g clip-path="url(#c6)">
<polygon fill="#d02020" points="175,487.5 190,482.5 212.5,480 276.5,480 288.8,485.8 300,487.8 300,560 291.2,540 275,527.5 268.8,517.5 247.5,523.8 235,516.2 216.2,523.8 212.5,512.5 190,517.5 188.8,502.5 177.5,496.2"/>
<polygon fill="#fd840a" points="160,517.5 172.5,523.8 175,536.2 167.5,552.5 162.5,560 130,546.2 125,543.8 140,538.8 151.2,526.2"/>
<polygon fill="#fd840a" points="86.2,537.5 117.5,537.5 125,543.8 115,560 112.5,572.5 96.2,573.8 85,565 77.5,572.5 66.2,558.8 80,552.5"/>
<polygon fill="#fd840a" points="125,543.8 130,546.2 162.5,560 180,575 176.2,580 183.8,603.8 172.5,620 162.5,630 162.5,650 120,650 120,630 116.2,615 111.2,612.5 113.8,601.2 100,586.2 96.2,573.8 112.5,572.5 115,560"/>
<polygon fill="#fdbb10" points="172.5,523.8 190,517.5 212.5,512.5 216.2,523.8 235,516.2 247.5,523.8 240,545 243.8,576.2 235,575 231.2,590 240,595 246.2,587.5 300,600 300,630 300,650 162.5,650 162.5,630 172.5,620 183.8,603.8 176.2,580 180,575 162.5,560 167.5,552.5 175,536.2"/>
<polygon fill="#fd840a" points="247.5,523.8 268.8,517.5 275,527.5 291.2,540 300,560 300,600 246.2,587.5 240,595 231.2,590 235,575 243.8,576.2 240,545"/>
<polygon fill="#d02020" points="43.8,595 70,587.5 75,592.5 93.8,575 100,586.2 113.8,601.2 111.2,612.5 101.2,616.2 96.2,630 96.2,650 27.5,650 27.5,630 28.8,617.5 41.2,612.5"/>
<polygon fill="#fde04a" points="101.2,616.2 111.2,612.5 116.2,615 120,630 120,650 96.2,650 96.2,630"/>
<path class="b eR" d="M175 487.5L190 482.5M190 482.5L212.5 480M276.5 480L288.8 485.8M288.8 485.8L300 487.8M300 560L291.2 540M291.2 540L275 527.5M275 527.5L268.8 517.5M268.8 517.5L247.5 523.8M247.5 523.8L235 516.2M235 516.2L216.2 523.8M216.2 523.8L212.5 512.5M212.5 512.5L190 517.5M190 517.5L188.8 502.5M188.8 502.5L177.5 496.2M177.5 496.2L175 487.5M43.8 595L70 587.5M70 587.5L75 592.5M75 592.5L93.8 575M93.8 575L100 586.2M100 586.2L113.8 601.2M113.8 601.2L111.2 612.5M111.2 612.5L101.2 616.2M101.2 616.2L96.2 630M27.5 630L28.8 617.5M28.8 617.5L41.2 612.5M41.2 612.5L43.8 595"/>
<path class="b eO" d="M160 517.5L172.5 523.8M172.5 523.8L175 536.2M175 536.2L167.5 552.5M167.5 552.5L162.5 560M162.5 560L130 546.2M130 546.2L125 543.8M125 543.8L140 538.8M140 538.8L151.2 526.2M151.2 526.2L160 517.5M86.2 537.5L117.5 537.5M117.5 537.5L125 543.8M125 543.8L115 560M115 560L112.5 572.5M112.5 572.5L96.2 573.8M96.2 573.8L85 565M85 565L77.5 572.5M77.5 572.5L66.2 558.8M66.2 558.8L80 552.5M80 552.5L86.2 537.5M125 543.8L130 546.2M130 546.2L162.5 560M162.5 560L180 575M180 575L176.2 580M176.2 580L183.8 603.8M183.8 603.8L172.5 620M172.5 620L162.5 630M120 630L116.2 615M116.2 615L111.2 612.5M111.2 612.5L113.8 601.2M113.8 601.2L100 586.2M100 586.2L96.2 573.8M96.2 573.8L112.5 572.5M112.5 572.5L115 560M115 560L125 543.8M247.5 523.8L268.8 517.5M268.8 517.5L275 527.5M275 527.5L291.2 540M291.2 540L300 560M300 600L246.2 587.5M246.2 587.5L240 595M240 595L231.2 590M231.2 590L235 575M235 575L243.8 576.2M243.8 576.2L240 545M240 545L247.5 523.8"/>
<path class="b eA" d="M172.5 523.8L190 517.5M190 517.5L212.5 512.5M212.5 512.5L216.2 523.8M216.2 523.8L235 516.2M235 516.2L247.5 523.8M247.5 523.8L240 545M240 545L243.8 576.2M243.8 576.2L235 575M235 575L231.2 590M231.2 590L240 595M240 595L246.2 587.5M246.2 587.5L300 600M162.5 630L172.5 620M172.5 620L183.8 603.8M183.8 603.8L176.2 580M176.2 580L180 575M180 575L162.5 560M162.5 560L167.5 552.5M167.5 552.5L175 536.2M175 536.2L172.5 523.8"/>
<path class="b eY" d="M101.2 616.2L111.2 612.5M111.2 612.5L116.2 615M116.2 615L120 630M96.2 630L101.2 616.2"/>
<path class="b bR" d="M215 480L245 486.2L247.5 496.2L271.2 507.5L268.8 517.5M271.2 507.5L282.5 500L290 485L287.5 480"/>
<path class="b bA" d="M175 536.2L190 546.2L200 560L210 562.5L232.5 575L243.8 576.2M232.5 575L220 595L212.5 615L197.5 630"/>
</g>
<g clip-path="url(#c7)">
<polygon fill="#d02020" points="300,488.8 325,480 600,480 600,630 600,650 300,650 300,630"/>
<polygon fill="#fd840a" points="418.8,531.2 436.2,533.8 439.5,540 433.8,568.8 425,576.2 412.5,573.8 392.5,603.8 377.5,600 381.2,590 350,566.2 357.5,562.5 376.2,557.5 386.2,546.2 402.5,543.8"/>
<polygon fill="#fd840a" points="457.5,480 488.8,480 487.5,485 462.5,487.5"/>
<polygon fill="#fd840a" points="493.8,480 525,480 528.8,482.5 520,498.8 505,506.2 497.5,497.5 491.2,487.5"/>
<polygon fill="#fdbb10" points="497.5,498.8 500,512.5 507.5,521.2 517.5,523.8 512.5,537.5 515,553.8 507.5,550 500,562.5 482.5,576.2 472.5,580 462.5,583.8 453.8,578.8 457.5,567.5 463.8,551.2 460,536.2 486.2,527.5 490,517.5"/>
<polygon fill="#fd840a" points="517.5,523.8 535,517.5 540,535 560,546.2 568.8,548.8 575,562.5 587.5,573.8 561.2,582.5 547.5,600 543.8,630 543.8,650 492.5,650 492.5,630 488.8,616.2 472.5,612.5 467.5,585 462.5,583.8 472.5,580 482.5,576.2 500,562.5 507.5,550 515,553.8 512.5,537.5"/>
<polygon fill="#fdbb10" points="535,506.2 560,517.5 570,525 578.8,531.2 583.8,545 568.8,548.8 560,546.2 540,535 535,517.5"/>
<polygon fill="#2b8a20" points="558.8,487.5 565,483.8 585,480 600,493.8 600,525 577.5,526.2 568.8,521.2 573.8,498.8 562.5,496.2"/>
<polygon fill="#fdbb10" points="585,480 600,480 600,493.8"/>
<polygon fill="#fd840a" points="558.8,480 575,480 565,483.8"/>
<polygon fill="#fd840a" points="305,610 325,603.8 332.5,608.8 340,620 337.5,630 337.5,650 303.8,650 303.8,630"/>
<polygon fill="#fde04a" points="340,620 346.2,615 351.2,620 353.8,630 353.8,650 337.5,650 337.5,630"/>
<polygon fill="#fd840a" points="300,552.5 303.8,557.5 305,567.5 302.5,578.8 300,580"/>
<polygon fill="#fdbb10" points="300,600 303.8,610 303.8,630 303.8,650 300,650 300,630"/>
<path class="b eR" d="M300 488.8L325 480"/>
<path class="b eO" d="M418.8 531.2L436.2 533.8M436.2 533.8L439.5 540M439.5 540L433.8 568.8M433.8 568.8L425 576.2M425 576.2L412.5 573.8M412.5 573.8L392.5 603.8M392.5 603.8L377.5 600M377.5 600L381.2 590M381.2 590L350 566.2M350 566.2L357.5 562.5M357.5 562.5L376.2 557.5M376.2 557.5L386.2 546.2M386.2 546.2L402.5 543.8M402.5 543.8L418.8 531.2M488.8 480L487.5 485M487.5 485L462.5 487.5M462.5 487.5L457.5 480M525 480L528.8 482.5M528.8 482.5L520 498.8M520 498.8L505 506.2M505 506.2L497.5 497.5M497.5 497.5L491.2 487.5M491.2 487.5L493.8 480M517.5 523.8L535 517.5M535 517.5L540 535M540 535L560 546.2M560 546.2L568.8 548.8M568.8 548.8L575 562.5M575 562.5L587.5 573.8M587.5 573.8L561.2 582.5M561.2 582.5L547.5 600M547.5 600L543.8 630M492.5 630L488.8 616.2M488.8 616.2L472.5 612.5M472.5 612.5L467.5 585M467.5 585L462.5 583.8M462.5 583.8L472.5 580M472.5 580L482.5 576.2M482.5 576.2L500 562.5M500 562.5L507.5 550M507.5 550L515 553.8M515 553.8L512.5 537.5M512.5 537.5L517.5 523.8M575 480L565 483.8M565 483.8L558.8 480M305 610L325 603.8M325 603.8L332.5 608.8M332.5 608.8L340 620M340 620L337.5 630M303.8 630L305 610M300 552.5L303.8 557.5M303.8 557.5L305 567.5M305 567.5L302.5 578.8M302.5 578.8L300 580"/>
<path class="b eA" d="M497.5 498.8L500 512.5M500 512.5L507.5 521.2M507.5 521.2L517.5 523.8M517.5 523.8L512.5 537.5M512.5 537.5L515 553.8M515 553.8L507.5 550M507.5 550L500 562.5M500 562.5L482.5 576.2M482.5 576.2L472.5 580M472.5 580L462.5 583.8M462.5 583.8L453.8 578.8M453.8 578.8L457.5 567.5M457.5 567.5L463.8 551.2M463.8 551.2L460 536.2M460 536.2L486.2 527.5M486.2 527.5L490 517.5M490 517.5L497.5 498.8M535 506.2L560 517.5M560 517.5L570 525M570 525L578.8 531.2M578.8 531.2L583.8 545M583.8 545L568.8 548.8M568.8 548.8L560 546.2M560 546.2L540 535M540 535L535 517.5M535 517.5L535 506.2M600 493.8L585 480M300 600L303.8 610M303.8 610L303.8 630"/>
<path class="b eY" d="M340 620L346.2 615M346.2 615L351.2 620M351.2 620L353.8 630M337.5 630L340 620"/>
<path class="b eG" d="M558.8 487.5L565 483.8M565 483.8L585 480M585 480L600 493.8M600 525L577.5 526.2M577.5 526.2L568.8 521.2M568.8 521.2L573.8 498.8M573.8 498.8L562.5 496.2M562.5 496.2L558.8 487.5"/>
<path class="b bR" d="M341.2 480L347.5 490L318.8 508.8L332.5 528.8L351.2 546.2L348.8 566.2M347.5 490L357.5 503.8L381.2 511.2L388.8 505L407.5 512.5L418.8 531.2M407.5 512.5L411.5 510L418 501.5L418.5 493L435 488.5L433 481.5L435.8 477M417.5 477L427 485L435 488.5M457.5 480L452.5 516.2L436.2 533.8M452.5 516.2L462.5 512.5L472.5 525L486.2 527.5M348.8 566.2L350 573.8L325 597.5L310 587.5L300 591.2M325 597.5L325 603.8M355 477L347.5 490M350 573.8L377.5 600M392.5 603.8L407.5 610L407.5 630M433.8 568.8L456.2 571.2M587.5 573.8L600 575M547.5 600L552.5 602.5L557.5 617.5L575 617.5L585 605L593.8 616.2L600 615M463.8 616.2L487.5 612.5L493.8 630M463.8 616.2L465 630"/>
<path class="b bO" d="M483.8 577.5L488.8 590L512.5 585L521.2 591.2L536.2 585L547.5 597.5"/>
<path class="b bA" d="M502.5 507.5L515 517.5L533.8 512.5L537.2 505L539.2 492.2L527.2 495"/>
</g>
<g clip-path="url(#c8)">
<polygon fill="#fdbb10" points="600,480 675,480 650,503.8 630,511.2 623.8,505 608.8,503.8 600,495"/>
<polygon fill="#2b8a20" points="600,495 608.8,503.8 623.8,505 630,511.2 626.2,517.5 600,523.8"/>
<polygon fill="#d02020" points="675,480 672.5,483.8 691.2,491.2 705,510 721.2,545 736.2,537.5 740,546.2 756.2,557.5 742.5,563.8 721.2,562.5 718.8,578.8 730,593.8 728.8,607.5 721.2,605 715,600 696.2,602.5 672.5,602.5 653.8,616.2 648.8,607.5 632.5,596.2 615,607.5 606.2,616.2 600,618.8 600,523.8 626.2,517.5 630,511.2 650,503.8"/>
<polygon fill="#2b8a20" points="676.2,480 726.5,480 720,486 724,492 730,505 705,510 691.2,491.2 672.5,483.8"/>
<polygon fill="#fd840a" points="726.5,480 828.8,480 826.2,490 837.5,498.8 842.5,517.5 836.2,526.2 817.5,521.2 795,538.8 780,552.5 756.2,557.5 740,546.2 736.2,537.5 721.2,545 705,510 730,505 724,492 720,486"/>
<polygon fill="#2b8a20" points="828.8,480 900,480 900,526.8 894.2,521.8 888,526.8 861.2,530 855,522.5 842.5,517.5 837.5,498.8 826.2,490"/>
<polygon fill="#fdbb10" points="817.5,521.2 836.2,526.2 842.5,517.5 855,522.5 861.2,530 888,526.8 894.2,521.8 900,526.8 900,600.2 894.2,605.2 892,613.5 880.8,618.8 879.8,630 879.8,650 850,650 850,630 845,610 835,602.5 820,587.5 805,586.2 797.5,602.5 780,617.5 766.2,606.2 747.5,622.5 743.8,630 743.8,650 645,650 645,630 653.8,616.2 672.5,602.5 696.2,602.5 715,600 721.2,605 728.8,607.5 730,593.8 718.8,578.8 721.2,562.5 742.5,563.8 756.2,557.5 780,552.5 795,538.8"/>
<polygon fill="#d02020" points="766.2,606.2 780,617.5 797.5,602.5 805,586.2 820,587.5 835,602.5 845,610 850,630 850,650 743.8,650 743.8,630 747.5,622.5"/>
<polygon fill="#fd840a" points="600,618.8 606.2,616.2 615,607.5 632.5,596.2 648.8,607.5 653.8,616.2 645,630 645,650 600,650 600,630"/>
<polygon fill="#2b8a20" points="880.8,618.8 892,613.5 894.2,605.2 900,600.2 900,630 900,650 879.8,650 879.8,630"/>
<path class="b eR" d="M675 480L672.5 483.8M672.5 483.8L691.2 491.2M691.2 491.2L705 510M705 510L721.2 545M721.2 545L736.2 537.5M736.2 537.5L740 546.2M740 546.2L756.2 557.5M756.2 557.5L742.5 563.8M742.5 563.8L721.2 562.5M721.2 562.5L718.8 578.8M718.8 578.8L730 593.8M730 593.8L728.8 607.5M728.8 607.5L721.2 605M721.2 605L715 600M715 600L696.2 602.5M696.2 602.5L672.5 602.5M672.5 602.5L653.8 616.2M653.8 616.2L648.8 607.5M648.8 607.5L632.5 596.2M632.5 596.2L615 607.5M615 607.5L606.2 616.2M606.2 616.2L600 618.8M600 523.8L626.2 517.5M626.2 517.5L630 511.2M630 511.2L650 503.8M650 503.8L675 480M766.2 606.2L780 617.5M780 617.5L797.5 602.5M797.5 602.5L805 586.2M805 586.2L820 587.5M820 587.5L835 602.5M835 602.5L845 610M845 610L850 630M743.8 630L747.5 622.5M747.5 622.5L766.2 606.2"/>
<path class="b eO" d="M828.8 480L826.2 490M826.2 490L837.5 498.8M837.5 498.8L842.5 517.5M842.5 517.5L836.2 526.2M836.2 526.2L817.5 521.2M817.5 521.2L795 538.8M795 538.8L780 552.5M780 552.5L756.2 557.5M756.2 557.5L740 546.2M740 546.2L736.2 537.5M736.2 537.5L721.2 545M721.2 545L705 510M705 510L730 505M730 505L724 492M724 492L720 486M720 486L726.5 480M600 618.8L606.2 616.2M606.2 616.2L615 607.5M615 607.5L632.5 596.2M632.5 596.2L648.8 607.5M648.8 607.5L653.8 616.2M653.8 616.2L645 630"/>
<path class="b eA" d="M675 480L650 503.8M650 503.8L630 511.2M630 511.2L623.8 505M623.8 505L608.8 503.8M608.8 503.8L600 495M817.5 521.2L836.2 526.2M836.2 526.2L842.5 517.5M842.5 517.5L855 522.5M855 522.5L861.2 530M861.2 530L888 526.8M888 526.8L894.2 521.8M894.2 521.8L900 526.8M900 600.2L894.2 605.2M894.2 605.2L892 613.5M892 613.5L880.8 618.8M880.8 618.8L879.8 630M850 630L845 610M845 610L835 602.5M835 602.5L820 587.5M820 587.5L805 586.2M805 586.2L797.5 602.5M797.5 602.5L780 617.5M780 617.5L766.2 606.2M766.2 606.2L747.5 622.5M747.5 622.5L743.8 630M645 630L653.8 616.2M653.8 616.2L672.5 602.5M672.5 602.5L696.2 602.5M696.2 602.5L715 600M715 600L721.2 605M721.2 605L728.8 607.5M728.8 607.5L730 593.8M730 593.8L718.8 578.8M718.8 578.8L721.2 562.5M721.2 562.5L742.5 563.8M742.5 563.8L756.2 557.5M756.2 557.5L780 552.5M780 552.5L795 538.8M795 538.8L817.5 521.2"/>
<path class="b eG" d="M600 495L608.8 503.8M608.8 503.8L623.8 505M623.8 505L630 511.2M630 511.2L626.2 517.5M626.2 517.5L600 523.8M726.5 480L720 486M720 486L724 492M724 492L730 505M730 505L705 510M705 510L691.2 491.2M691.2 491.2L672.5 483.8M672.5 483.8L676.2 480M900 526.8L894.2 521.8M894.2 521.8L888 526.8M888 526.8L861.2 530M861.2 530L855 522.5M855 522.5L842.5 517.5M842.5 517.5L837.5 498.8M837.5 498.8L826.2 490M826.2 490L828.8 480M880.8 618.8L892 613.5M892 613.5L894.2 605.2M894.2 605.2L900 600.2M879.8 630L880.8 618.8"/>
<path class="b bR" d="M650 508.8L657.5 517.5L637.5 563.8L641.2 580L645 597.5L653.8 616.2M637.5 563.8L610 565L606.2 573.8L600 575"/>
<path class="b bA" d="M775 555L795 565L800 580L805 586.2M861.2 530L857 544.5L867.2 553.8L863.2 563L876.8 559.8L872.5 571.2L856 583.5L849.8 570.2L828.2 579.5M721.2 605L730 620L747.5 622.5"/>
<path class="b bG" d="M877.5 480L875 510L871.2 523.8M701 490L720 486"/>
</g>
<g clip-path="url(#c9)">
<polygon fill="#2b8a20" points="900,480 943.8,480 945,500 940,510 953.8,515 960,532.5 985,537.5 1003.8,533.8 1016.2,536.2 1025,517.5 1048.8,515 1045,536.2 1051.2,547.5 1070,566.2 1088.8,572.5 1085,592.5 1092.5,605 1093.8,613.8 1105,612.5 1126.2,602.5 1135,587.5 1156.2,610 1150,623.8 1137.5,630 1137.5,650 900,650 900,630"/>
<polygon fill="#fdbb10" points="900,526.2 910,537.5 905,541.2 908.8,548.8 917.5,562.5 911.2,575 908.5,593 900,600.2"/>
<polygon fill="#fd840a" points="943.8,480 968.8,480 961.2,512.5 958.8,517.5 983.8,520 985,537.5 960,532.5 953.8,515 940,510 945,500"/>
<polygon fill="#d02020" points="968.8,480 1020,480 1021.2,493.8 1036.2,511.2 1025,517.5 1016.2,536.2 1003.8,533.8 985,536.2 983.8,520 958.8,517.5 961.2,512.5"/>
<polygon fill="#fdbb10" points="960,532.5 985,537.5 983.8,548.8 966.2,560 963.8,578.8 945,582.5 936.2,566.2 938.8,546.2 950,537.5"/>
<polygon fill="#fdbb10" points="960,596.2 968.8,593.8 975,607.5 982.5,611.2 980,630 980,650 943.8,650 943.8,630 956.2,615"/>
<polygon fill="#fd840a" points="912.5,620 932.5,621.2 937.5,630 937.5,650 911.2,650 911.2,630"/>
<path class="b eR" d="M1020 480L1021.2 493.8M1021.2 493.8L1036.2 511.2M1036.2 511.2L1025 517.5M1025 517.5L1016.2 536.2M1016.2 536.2L1003.8 533.8M1003.8 533.8L985 536.2M985 536.2L983.8 520M983.8 520L958.8 517.5M958.8 517.5L961.2 512.5M961.2 512.5L968.8 480"/>
<path class="b eO" d="M968.8 480L961.2 512.5M961.2 512.5L958.8 517.5M958.8 517.5L983.8 520M983.8 520L985 537.5M985 537.5L960 532.5M960 532.5L953.8 515M953.8 515L940 510M940 510L945 500M945 500L943.8 480M912.5 620L932.5 621.2M932.5 621.2L937.5 630M911.2 630L912.5 620"/>
<path class="b eA" d="M900 526.2L910 537.5M910 537.5L905 541.2M905 541.2L908.8 548.8M908.8 548.8L917.5 562.5M917.5 562.5L911.2 575M911.2 575L908.5 593M908.5 593L900 600.2M960 532.5L985 537.5M985 537.5L983.8 548.8M983.8 548.8L966.2 560M966.2 560L963.8 578.8M963.8 578.8L945 582.5M945 582.5L936.2 566.2M936.2 566.2L938.8 546.2M938.8 546.2L950 537.5M950 537.5L960 532.5M960 596.2L968.8 593.8M968.8 593.8L975 607.5M975 607.5L982.5 611.2M982.5 611.2L980 630M943.8 630L956.2 615M956.2 615L960 596.2"/>
<path class="b eG" d="M943.8 480L945 500M945 500L940 510M940 510L953.8 515M953.8 515L960 532.5M960 532.5L985 537.5M985 537.5L1003.8 533.8M1003.8 533.8L1016.2 536.2M1016.2 536.2L1025 517.5M1025 517.5L1048.8 515M1048.8 515L1045 536.2M1045 536.2L1051.2 547.5M1051.2 547.5L1070 566.2M1070 566.2L1088.8 572.5M1088.8 572.5L1085 592.5M1085 592.5L1092.5 605M1092.5 605L1093.8 613.8M1093.8 613.8L1105 612.5M1105 612.5L1126.2 602.5M1126.2 602.5L1135 587.5M1135 587.5L1156.2 610M1156.2 610L1150 623.8M1150 623.8L1137.5 630"/>
<path class="b bG" d="M1003.8 533.8L998.8 548.8L1007.5 576.2L1001.2 590L1005 607.5L982.5 611.2L968.8 593.8L963.8 578.8M917.5 562.5L936.2 566.2M1093.8 613.8L1092.5 630"/>
</g>
</g><!--/MAP-->
</svg>
</body></html>
